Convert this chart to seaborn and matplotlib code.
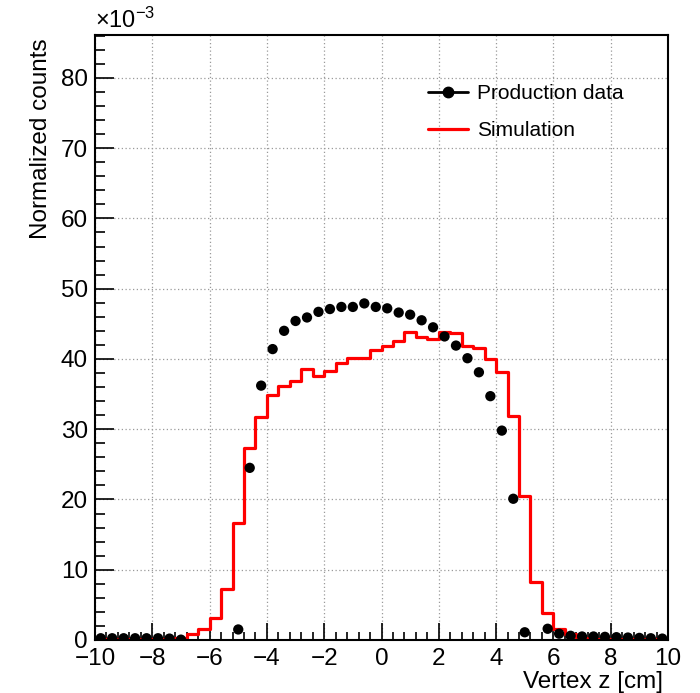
import numpy as np
import pandas as pd
import matplotlib
matplotlib.use("Agg")
import matplotlib.pyplot as plt
from matplotlib.lines import Line2D
from matplotlib.ticker import MultipleLocator
import seaborn as sns

# ---- data (values in units of 1e-3) ----
bin_edges = [round(-10 + 0.4 * i, 1) for i in range(51)]
bin_centers = [-9.8, -9.4, -9.0, -8.6, -8.2, -7.8, -7.4, -7.0, -6.6, -6.2,
               -5.8, -5.4, -5.0, -4.6, -4.2, -3.8, -3.4, -3.0, -2.6, -2.2,
               -1.8, -1.4, -1.0, -0.6, -0.2, 0.2, 0.6, 1.0, 1.4, 1.8,
               2.2, 2.6, 3.0, 3.4, 3.8, 4.2, 4.6, 5.0, 5.4, 5.8,
               6.2, 6.6, 7.0, 7.4, 7.8, 8.2, 8.6, 9.0, 9.4, 9.8]
production = [0.25, 0.25, 0.25, 0.25, 0.25, 0.25, 0.2, 0.05, np.nan, np.nan,
              np.nan, np.nan, 1.5, 24.5, 36.2, 41.4, 44.0, 45.4, 45.9, 46.7,
              47.1, 47.4, 47.4, 47.9, 47.4, 47.2, 46.6, 46.3, 45.5, 44.5,
              43.2, 41.9, 40.1, 38.1, 34.7, 29.8, 20.1, 1.1, np.nan, 1.6,
              0.9, 0.6, 0.5, 0.5, 0.45, 0.4, 0.35, 0.3, 0.25, 0.2]
simulation = [0.1, 0.1, 0.1, 0.1, 0.1, 0.1, 0.15, 0.3, 0.8, 1.6,
              3.2, 7.2, 16.7, 27.3, 31.8, 34.9, 36.2, 36.9, 38.6, 37.6,
              38.3, 39.4, 40.2, 40.2, 41.2, 41.8, 42.6, 43.8, 43.1, 42.8,
              43.9, 43.7, 41.9, 41.5, 40.0, 38.1, 31.9, 20.5, 8.3, 3.8,
              1.6, 0.8, 0.35, 0.2, 0.15, 0.1, 0.1, 0.1, 0.1, 0.1]
x_ticks = [-10, -8, -6, -4, -2, 0, 2, 4, 6, 8, 10]
y_ticks = [0, 10, 20, 30, 40, 50, 60, 70, 80]

sns.set_style("white")
FONT = ["Liberation Sans", "DejaVu Sans"]
plt.rcParams["font.family"] = FONT
plt.rcParams["text.color"] = "black"
plt.rcParams["xtick.color"] = "black"
plt.rcParams["ytick.color"] = "black"
plt.rcParams["mathtext.fontset"] = "custom"
plt.rcParams["mathtext.rm"] = "Liberation Sans"
plt.rcParams["mathtext.it"] = "Liberation Sans:italic"
plt.rcParams["mathtext.bf"] = "Liberation Sans:bold"

fig = plt.figure(figsize=(7.0, 6.93), dpi=100)
ax = fig.add_axes([95/700, 1-640/693, (668-95)/700, (640-35)/693])

df_sim = pd.DataFrame({"z": bin_centers, "w": simulation})
sns.histplot(data=df_sim, x="z", weights="w", bins=bin_edges, element="step",
             fill=False, color="#ff0000", linewidth=2.3, ax=ax, legend=False,
             zorder=2)

df_prod = pd.DataFrame({"z": bin_centers, "v": production}).dropna()
sns.scatterplot(data=df_prod, x="z", y="v", color="black", s=55,
                edgecolor="none", ax=ax, zorder=3, legend=False)

ax.set_xlim(-10, 10)
ax.set_ylim(0, 86.1)
ax.set_xticks(x_ticks)
ax.set_yticks(y_ticks)
ax.set_xticklabels([f"{t}".replace("-", "\u2212") for t in x_ticks])
ax.set_yticklabels([str(t) for t in y_ticks])
ax.xaxis.set_minor_locator(MultipleLocator(0.4))
ax.yaxis.set_minor_locator(MultipleLocator(2))
ax.set_xlabel("")
ax.set_ylabel("")

ax.tick_params(axis="x", which="major", direction="in", length=12, width=1.2,
               labelsize=17.5, pad=6, bottom=True, top=False, colors="black")
ax.tick_params(axis="x", which="minor", direction="in", length=6, width=1.2,
               bottom=True, top=False, colors="black")
ax.tick_params(axis="y", which="major", direction="in", length=14, width=1.2,
               labelsize=17.5, pad=5, left=True, right=False, colors="black")
ax.tick_params(axis="y", which="minor", direction="in", length=7, width=1.2,
               left=True, right=False, colors="black")

for s in ax.spines.values():
    s.set_linewidth(1.5)
    s.set_color("black")

ax.grid(True, which="major", color="#9a9a9a", linestyle=(0, (1, 2)), linewidth=0.9)
ax.set_axisbelow(True)

fig.text(95/700, 1-20/693, r"$\times$10$^{-3}$", fontsize=17, ha="left", va="center")
fig.text(41/700, 1-38/693, "Normalized counts", rotation=90, fontsize=17.5,
         ha="center", va="top")
fig.text(663/700, 1-682/693, "Vertex z [cm]", fontsize=17.5, ha="right", va="center")

handles = [Line2D([0], [0], color="black", marker="o", markersize=7.5, linewidth=2),
           Line2D([0], [0], color="#ff0000", linewidth=2.3)]
fig.legend(handles, ["Production data", "Simulation"], loc="upper left",
           bbox_to_anchor=(428/700, 1-84/693), frameon=False, fontsize=15,
           handlelength=1.9, handletextpad=0.45, labelspacing=0.88, borderpad=0,
           borderaxespad=0)

fig.savefig("out.png", dpi=100, facecolor="white")
